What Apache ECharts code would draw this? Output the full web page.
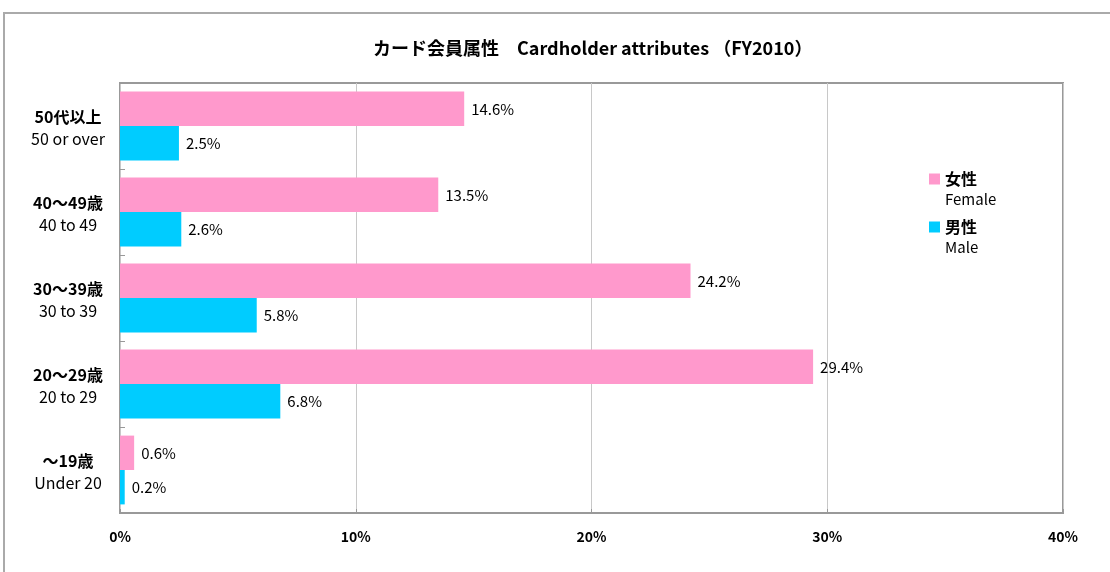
<!DOCTYPE html>
<html>
<head>
<meta charset="utf-8">
<script src="https://cdn.jsdelivr.net/npm/echarts@6/dist/echarts.min.js"></script>
<style>
html,body{margin:0;padding:0;background:#fff;}
#chart{width:1110px;height:572px;}
</style>
</head>
<body>
<div id="chart"></div>
<script>
var categoriesJa = ['50代以上', '40～49歳', '30～39歳', '20～29歳', '～19歳'];
var categoriesEn = ['50 or over', '40 to 49', '30 to 39', '20 to 29', 'Under 20'];
var female = [14.6, 13.5, 24.2, 29.4, 0.6];
var male = [2.5, 2.6, 5.8, 6.8, 0.2];
var xTicks = [0, 10, 20, 30, 40];
var seriesNames = ['女性', '男性'];
var seriesNamesEn = ['Female', 'Male'];

var FONT = '"Noto Sans CJK JP", "Noto Sans", sans-serif';
var chart = echarts.init(document.getElementById('chart'));
var cats = categoriesJa.map(function (c, i) { return c + '|' + categoriesEn[i]; });

chart.setOption({
  animation: false,
  backgroundColor: '#fff',
  textStyle: { fontFamily: FONT },
  title: {
    text: 'カード会員属性　Cardholder attributes （FY2010）',
    left: 368,
    top: 34,
    textStyle: { fontFamily: FONT, fontSize: 18, fontWeight: 'bold', color: '#000' }
  },
  graphic: [
    {
      type: 'rect',
      shape: { x: 4, y: 13, width: 1200, height: 700 },
      style: { fill: 'none', stroke: '#aaa', lineWidth: 2 },
      silent: true
    },
    {
      type: 'text', left: 945, top: 192,
      style: { text: seriesNamesEn[0], fontSize: 15, fontFamily: FONT, fill: '#000' }
    },
    {
      type: 'text', left: 945, top: 240,
      style: { text: seriesNamesEn[1], fontSize: 15, fontFamily: FONT, fill: '#000' }
    }
  ],
  legend: {
    orient: 'vertical',
    left: 929,
    top: 169,
    padding: 0,
    itemWidth: 11,
    itemHeight: 11,
    itemGap: 28,
    icon: 'rect',
    data: seriesNames,
    textStyle: {
      fontFamily: FONT, color: '#000', fontSize: 16, fontWeight: 'bold', lineHeight: 20
    }
  },
  grid: {
    left: 120, right: 47, top: 83, bottom: 59,
    show: true, borderColor: '#999', borderWidth: 2,
    containLabel: false
  },
  xAxis: {
    type: 'value',
    min: 0, max: 40, interval: 10,
    axisLine: { show: false },
    axisTick: { show: true, inside: true, length: 4, lineStyle: { color: '#999' } },
    splitLine: { show: true, lineStyle: { color: '#c8c8c8', width: 1 } },
    axisLabel: {
      margin: 17,
      fontSize: 14, fontWeight: 'bold', color: '#000', fontFamily: FONT,
      formatter: function (v) { return xTicks.indexOf(v) >= 0 ? v + '%' : ''; }
    }
  },
  yAxis: {
    type: 'category',
    inverse: true,
    data: cats,
    axisLine: { show: false },
    axisTick: { show: true, inside: true, length: 5, lineStyle: { color: '#999' } },
    axisLabel: {
      margin: 52,
      align: 'center',
      padding: [3, 0, 0, 0],
      formatter: function (v) {
        var p = v.split('|');
        return '{a|' + p[0] + '}\n{b|' + p[1] + '}';
      },
      rich: {
        a: { fontSize: 16, fontWeight: 'bold', color: '#000', lineHeight: 22, align: 'center', fontFamily: FONT },
        b: { fontSize: 16, color: '#000', lineHeight: 22, align: 'center', fontFamily: FONT }
      }
    }
  },
  series: [
    {
      name: seriesNames[0], type: 'bar', data: female,
      barGap: '0%', barCategoryGap: '20%',
      itemStyle: { color: '#FF99CC' },
      label: { show: true, position: 'right', distance: 7, formatter: '{c}%', fontSize: 15, color: '#000', fontFamily: FONT }
    },
    {
      name: seriesNames[1], type: 'bar', data: male,
      barGap: '0%', barCategoryGap: '20%',
      itemStyle: { color: '#00CCFF' },
      label: { show: true, position: 'right', distance: 7, formatter: '{c}%', fontSize: 15, color: '#000', fontFamily: FONT }
    }
  ]
});
</script>
</body>
</html>
